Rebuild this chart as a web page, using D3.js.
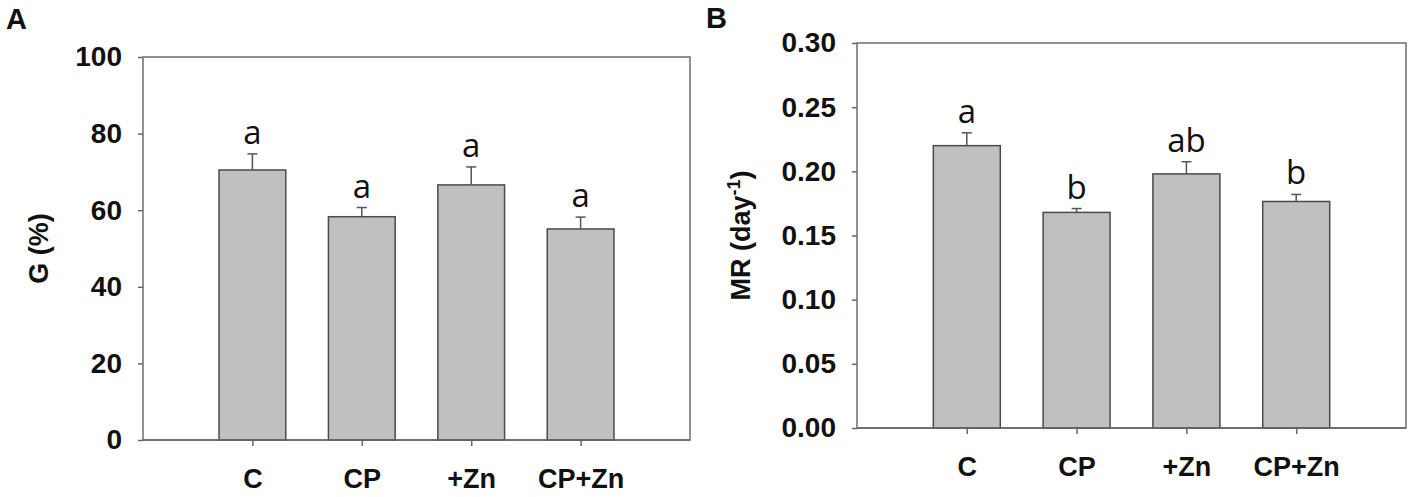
<!DOCTYPE html>
<html>
<head>
<meta charset="utf-8">
<script src="https://cdn.jsdelivr.net/npm/d3@7"></script>
<style>
    body { margin: 0; background: #fff; }
    .axis text { font-family: 'Liberation Sans', Arial, sans-serif; font-weight: bold; fill: #111; }
    .axis line, .axis path { stroke: #666; stroke-width: 1.5; }
</style>
</head>
<body>
<svg id="chart" width="1414" height="497"></svg>
<script>
// Chart values
var categories = ['C', 'CP', '+Zn', 'CP+Zn'];

var germination = [70.5, 58.3, 66.6, 55.1];
var germinationErr = [4.2, 2.4, 4.7, 3.1];
var germinationLetters = ['a', 'a', 'a', 'a'];
var germinationTicks = [0, 20, 40, 60, 80, 100];

var mitoticRate = [0.220, 0.168, 0.198, 0.1765];
var mitoticRateErr = [0.010, 0.003, 0.0095, 0.0055];
var mitoticRateLetters = ['a', 'b', 'ab', 'b'];
var mitoticRateTicks = [0, 0.05, 0.10, 0.15, 0.20, 0.25, 0.30];

var svg = d3.select('#chart');

// Draw one bar panel with upper error bars and letters
function drawPanel(p){

    var x = d3.scalePoint()
        .domain(categories)
        .range([p.left, p.right])
        .padding(1);
    var y = d3.scaleLinear()
        .domain([0, p.max])
        .range([p.bottom, p.top]);

    var barW = x.step() * 0.61;
    var g = svg.append('g');

    // Plot frame
    g.append('rect')
    .attr('x', p.left)
    .attr('y', p.top)
    .attr('width', p.right - p.left)
    .attr('height', p.bottom - p.top)
    .attr('fill', 'none')
    .attr('stroke', '#6e6e6e')
    .attr('stroke-width', 1.5);

    // Bars
    g.append('g')
    .selectAll('rect')
    .data(p.values)
    .enter()
    .append('rect')
    .attr('x', function(d, i){ return x(categories[i]) - barW / 2 })
    .attr('y', function(d){ return y(d) })
    .attr('width', barW)
    .attr('height', function(d){ return y(0) - y(d) })
    .attr('fill', '#c0c0c0')
    .attr('stroke', '#4a4a4a')
    .attr('stroke-width', 1.5);

    // Error bars (upper only)
    var err = g.append('g')
    .selectAll('g')
    .data(p.values)
    .enter()
    .append('g')
    .attr('stroke', '#555')
    .attr('stroke-width', 1.5);
    err.append('line')
    .attr('x1', function(d, i){ return x(categories[i]) })
    .attr('x2', function(d, i){ return x(categories[i]) })
    .attr('y1', function(d){ return y(d) })
    .attr('y2', function(d, i){ return y(d + p.errors[i]) });
    err.append('line')
    .attr('x1', function(d, i){ return x(categories[i]) - 5 })
    .attr('x2', function(d, i){ return x(categories[i]) + 5 })
    .attr('y1', function(d, i){ return y(d + p.errors[i]) })
    .attr('y2', function(d, i){ return y(d + p.errors[i]) });

    // Significance letters
    g.append('g')
    .selectAll('text')
    .data(p.values)
    .enter()
    .append('text')
    .attr('x', function(d, i){ return x(categories[i]) })
    .attr('y', function(d, i){ return y(d + p.errors[i]) - 10 })
    .attr('text-anchor', 'middle')
    .attr('font-family', "'Open Sans', sans-serif")
    .attr('font-size', '33px')
    .attr('fill', '#111')
    .text(function(d, i){ return p.letters[i] });

    // Left axis
    g.append('g')
    .attr('class', 'axis')
    .attr('transform', 'translate(' + p.left + ',0)')
    .call(d3.axisLeft(y).tickValues(p.ticks).tickSize(5).tickPadding(16).tickFormat(p.format))
    .call(function(a){ a.select('.domain').remove() })
    .selectAll('text')
    .attr('font-size', '28px');

    // Bottom axis
    g.append('g')
    .attr('class', 'axis')
    .attr('transform', 'translate(0,' + p.bottom + ')')
    .call(d3.axisBottom(x).tickSize(6).tickPadding(23))
    .call(function(a){ a.select('.domain').remove() })
    .selectAll('text')
    .attr('font-size', '27px');

    // Bar bases drawn over the axis
    g.append('line')
    .attr('x1', p.left)
    .attr('x2', p.right)
    .attr('y1', p.bottom)
    .attr('y2', p.bottom)
    .attr('stroke', '#666')
    .attr('stroke-width', 1.5);

    // Y axis title
    var title = g.append('text')
    .attr('transform', 'translate(' + p.titleX + ',' + ((p.top + p.bottom) / 2) + ') rotate(-90)')
    .attr('text-anchor', 'middle')
    .attr('font-family', "'Liberation Sans', Arial, sans-serif")
    .attr('font-weight', 'bold')
    .attr('font-size', '27px')
    .attr('fill', '#111');
    title.append('tspan').text(p.title);
    if(p.titleSup){
        title.append('tspan').attr('font-size', '18px').attr('dy', '-10').text(p.titleSup);
        title.append('tspan').attr('dy', '10').text(p.titleEnd);
    }

    // Panel letter
    svg.append('text')
    .attr('x', p.tagX)
    .attr('y', p.tagY)
    .attr('font-family', "'Liberation Sans', Arial, sans-serif")
    .attr('font-weight', 'bold')
    .attr('font-size', '29px')
    .attr('fill', '#111')
    .text(p.tag);
}

drawPanel({
    left: 143, right: 690, top: 57, bottom: 440, max: 100,
    values: germination, errors: germinationErr, letters: germinationLetters,
    ticks: germinationTicks, format: d3.format('d'),
    title: 'G (%)', titleX: 48,
    tag: 'A', tagX: 6, tagY: 29
});

drawPanel({
    left: 857, right: 1406, top: 43, bottom: 428, max: 0.30,
    values: mitoticRate, errors: mitoticRateErr, letters: mitoticRateLetters,
    ticks: mitoticRateTicks, format: d3.format('.2f'),
    title: 'MR (day', titleSup: '-1', titleEnd: ')', titleX: 750,
    tag: 'B', tagX: 706, tagY: 28
});
</script>
</body>
</html>
